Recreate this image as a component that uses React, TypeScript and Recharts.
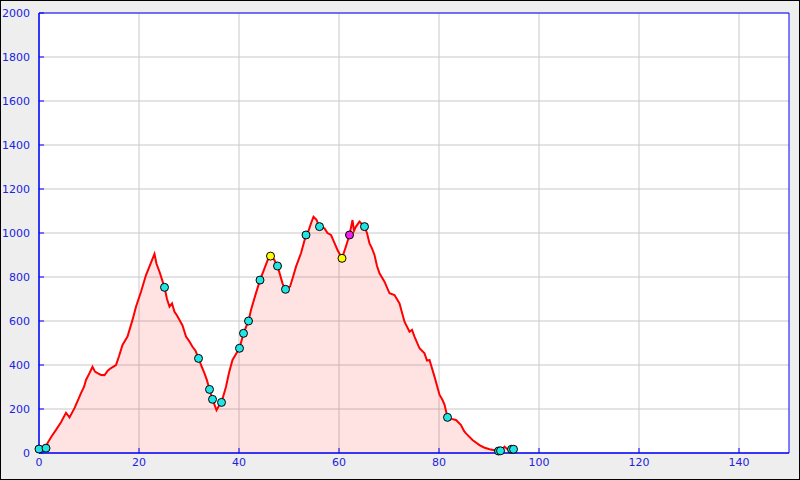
import { ComposedChart, Area, Scatter, Cell, XAxis, YAxis, CartesianGrid, ReferenceArea } from 'recharts';

// distance (km) and elevation (m) of the profile
const KM = [
  0, 0.5, 1.4, 1.7, 2.5, 3.4, 4.4, 5.4, 6.1, 7.1, 7.8, 8.4, 9.0, 9.4, 10.1, 10.7, 11.2, 11.7, 12.4, 13.1,
  13.8, 14.4, 15.4, 16.0, 16.7, 17.7, 18.7, 19.4, 20.4, 21.4, 22.3, 23.1, 23.5, 24.1, 25.1, 25.6, 26.1, 26.6,
  27.1, 27.6, 28.1, 28.7, 29.4, 30.0, 30.7, 31.3, 31.9, 32.5, 33.1, 33.6, 34.1, 34.7, 35.5, 36.0, 36.5, 37.4,
  38.0, 38.7, 39.4, 40.1, 40.9, 41.9, 42.4, 43.3, 44.2, 45.1, 45.7, 46.3, 47.0, 47.7, 48.7, 49.3, 50.2, 50.8,
  51.4, 52.4, 53.4, 53.9, 54.4, 54.9, 55.5, 56.1, 57.1, 57.7, 58.4, 59.0, 59.7, 60.6, 61.4, 62.1, 62.7, 63.0,
  63.4, 64.1, 64.6, 65.1, 65.6, 66.1, 66.6, 67.1, 67.6, 68.1, 69.1, 70.1, 71.1, 72.1, 73.1, 74.1, 74.6, 75.1,
  76.1, 77.1, 77.6, 78.1, 79.1, 80.1, 80.7, 81.1, 81.7, 82.5, 83.4, 84.4, 85.0, 85.4, 86.7, 88.1, 89.0, 90.1,
  91.9, 92.5, 93.1, 93.7, 94.7, 95.1,
];
const ELEV = [
  20, 20, 25, 45, 75, 105, 140, 183, 162, 204, 240, 272, 300, 332, 363, 392, 370, 363, 355, 354,
  375, 386, 400, 440, 491, 529, 605, 665, 733, 809, 860, 905, 860, 824, 753, 700, 665, 680,
  642, 625, 605, 580, 529, 510, 483, 465, 430, 395, 362, 330, 289, 244, 195, 215, 230, 301,
  365, 423, 450, 476, 544, 600, 650, 720, 786, 839, 875, 895, 880, 850, 771, 744, 756, 800,
  847, 908, 991, 1010, 1044, 1074, 1060, 1029, 1021, 1000, 991, 960, 923, 885, 940, 991, 1059, 1010,
  1029, 1052, 1040, 1029, 1000, 953, 930, 900, 850, 817, 779, 726, 718, 680, 597, 551, 560, 529,
  476, 453, 420, 423, 347, 265, 241, 220, 162, 155, 150, 127, 100, 89, 59, 36, 25, 17,
  9, 12, 29, 17, 17, 20,
];

// waypoints
const WP_KM = [0, 1.4, 25.1, 31.9, 34.1, 34.7, 36.5, 40.1, 40.9, 41.9, 44.2, 46.3, 47.7, 49.3, 53.4, 56.1, 60.6, 62.1, 65.1, 81.7, 91.9, 92.3, 94.5, 94.9];
const WP_ELEV = [18, 22, 753, 430, 289, 244, 230, 476, 544, 600, 786, 895, 850, 744, 991, 1029, 885, 991, 1029, 162, 9, 10, 17, 17];
const WP_TYPE = ['c', 'c', 'c', 'c', 'c', 'c', 'c', 'c', 'c', 'c', 'c', 'y', 'c', 'c', 'c', 'c', 'y', 'm', 'c', 'c', 'c', 'c', 'c', 'c'];

const X_TICKS = [0, 20, 40, 60, 80, 100, 120, 140];
const Y_TICKS = [0, 200, 400, 600, 800, 1000, 1200, 1400, 1600, 1800, 2000];

const WP_COLORS: { [key: string]: string } = { c: '#22e4e4', y: '#ffff00', m: '#ee22ee' };

const profile = KM.map((km, i) => ({ km, elev: ELEV[i] }));
const waypoints = WP_KM.map((km, i) => ({ km, elev: WP_ELEV[i], type: WP_TYPE[i] }));

const tickStyle = { fontSize: 11, fill: '#2222dd', fontFamily: 'DejaVu Sans' };

export default function App() {
  return (
    <div
      style={{
        position: 'absolute',
        left: 0,
        top: 0,
        width: 800,
        height: 480,
        background: '#eeeeee',
        border: '1px solid #000',
        boxSizing: 'border-box',
      }}
    >
      <ComposedChart width={798} height={478} data={profile} margin={{ top: 12, right: 10, left: 0, bottom: 0 }}>
        <CartesianGrid stroke="#c8c8c8" fill="#ffffff" fillOpacity={1} horizontalValues={Y_TICKS} verticalValues={X_TICKS} />
        <XAxis
          dataKey="km"
          type="number"
          domain={[0, 150]}
          ticks={X_TICKS}
          interval={0}
          height={26}
          tickSize={-5}
          tickMargin={10}
          tick={tickStyle}
          axisLine={{ stroke: '#0000ff' }}
          tickLine={{ stroke: '#0000ff' }}
        />
        <YAxis
          type="number"
          domain={[0, 2000]}
          ticks={Y_TICKS}
          interval={0}
          width={38}
          tickSize={-5}
          tickMargin={14}
          tick={tickStyle}
          axisLine={{ stroke: '#0000ff' }}
          tickLine={{ stroke: '#0000ff' }}
        />
        <Area
          type="linear"
          dataKey="elev"
          stroke="#ff0000"
          strokeWidth={2}
          fill="#ff0000"
          fillOpacity={0.11}
          dot={false}
          activeDot={false}
          isAnimationActive={false}
        />
        <Scatter data={waypoints} dataKey="elev" isAnimationActive={false}
          shape={(p: any) => <circle cx={p.cx} cy={p.cy} r={4} fill={p.fill} stroke="#000" strokeWidth={1} />}
        >
          {waypoints.map((w, i) => (
            <Cell key={i} fill={WP_COLORS[w.type]} />
          ))}
        </Scatter>
        <ReferenceArea x1={0} x2={150} y1={0} y2={2000} fill="none" stroke="#0000ff" strokeWidth={1} />
      </ComposedChart>
    </div>
  );
}
